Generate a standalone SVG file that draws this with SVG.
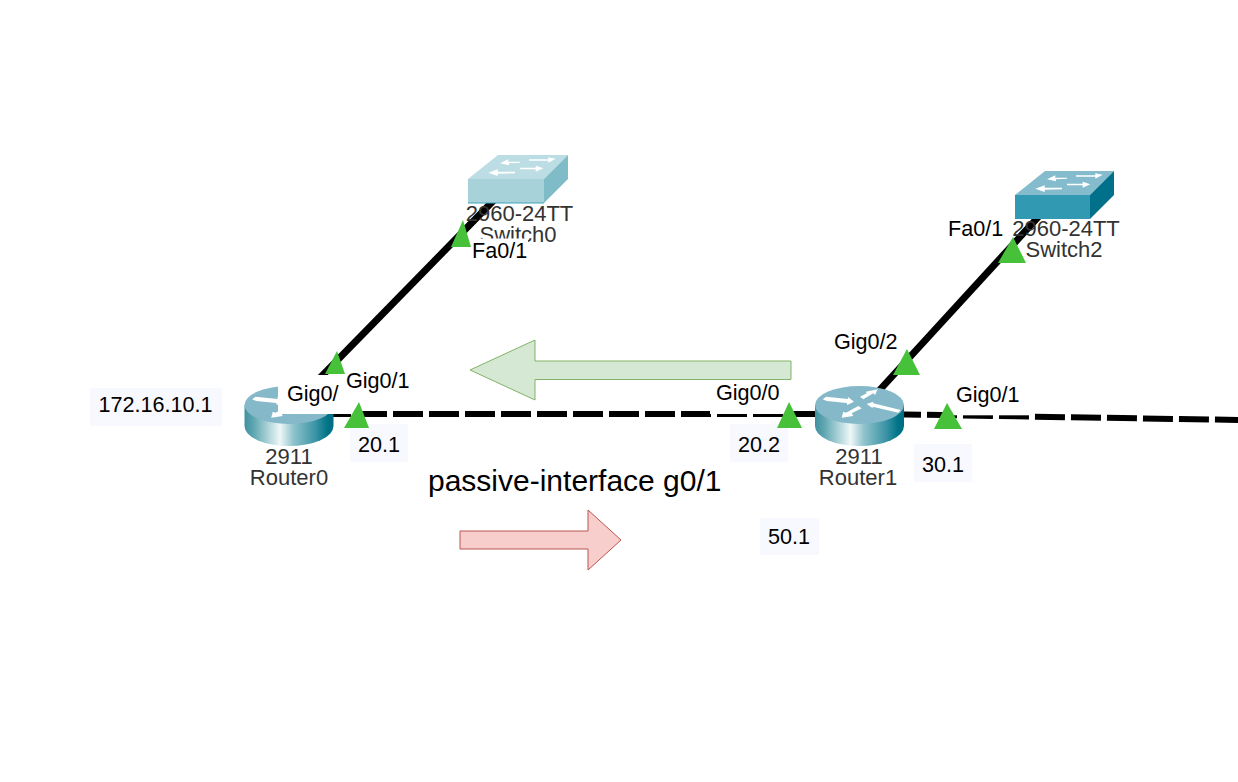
<svg xmlns="http://www.w3.org/2000/svg" width="1238" height="782" viewBox="0 0 1238 782">
<style>
text{font-family:"Liberation Sans",Arial,sans-serif;font-size:21.6px;fill:#000}
.dev{fill:#333;text-anchor:middle;font-size:22px}
.lnk{stroke:#000;stroke-width:6;fill:none}
.diag{stroke-width:7}
.dash{stroke-dasharray:30 6}
.wb{fill:#fff}
.pb{fill:#f8f8ff}
.tri{fill:#46c139}
.ar{fill:#fff}
</style>
<defs>
<linearGradient id="cyl" x1="0" x2="1" y1="0" y2="0">
<stop offset="0" stop-color="#3f919f"/><stop offset="0.1" stop-color="#5ea6b1"/><stop offset="0.4" stop-color="#eef7f8"/><stop offset="0.55" stop-color="#8fc3cc"/><stop offset="0.8" stop-color="#3a93a5"/><stop offset="0.93" stop-color="#007488"/><stop offset="1" stop-color="#016d81"/>
</linearGradient>
<g id="router">
<path d="M-44.5 0V21A44.5 20 0 0 0 44.5 21V0Z" fill="url(#cyl)"/>
<ellipse cx="0" cy="0" rx="44.5" ry="19" fill="#85b8c8"/>
<path class="ar" d="M-36.8-5.7L-33.5-8.3L-11.2-6L-11.8-8.3L-5.5-3.3L-12.2 0L-12.8-2L-32.8-4Z"/>
<path class="ar" d="M.5-8.3L7.2-11.7L6.2-13.3L18.2-15.7L15.5-10L13.8-11.7L3.8-5.7Z"/>
<path class="ar" d="M-1.2 1L2.2 3.3L-7.8 8.3L-6.2 11L-17.8 12.7L-16.2 6.7L-13.5 7.7Z"/>
<path class="ar" d="M7.2-1L13.8-3.3L13.8-1.7L41.2 5L38.8 7.7L13.2 1.7L13.2 3.3Z"/>
</g>
<g id="swarrows">
<path class="ar" d="M32 8.3L40.3 4.3L40.3 6.7L52 6.7L52 7.7L41 8.3L41 10.3Z"/>
<path class="ar" d="M61 4.3L80.3 4.3L80.3 2.3L87.7 3.7L80.3 7.7L80.3 5.7L61 5.7Z"/>
<path class="ar" d="M20.3 17.7L29.7 14.3L29.7 16.7L47 16.7L47 18.3L29.7 18.7L29.7 21Z"/>
<path class="ar" d="M52 12.7L67.7 12.7L67.7 10.7L75.3 13.3L67.7 16.7L67.7 14.3L52 14.3Z"/>
</g>
</defs>
<rect width="1238" height="782" fill="#fff"/>
<g id="connectors">
<line class="lnk diag" x1="496" y1="198" x2="316" y2="382"/>
<line class="lnk diag" x1="1041" y1="214" x2="876" y2="394"/>
<line class="lnk dash" x1="285" y1="414" x2="860" y2="414"/>
<line class="lnk dash" x1="855" y1="413.65" x2="1238" y2="420"/>
</g>
<g id="Switch0">
<path d="M468 179L498 155H568L544 179Z" fill="#bcdde4"/>
<rect x="468" y="179" width="76" height="24" fill="#a8d2da"/>
<path d="M544 179L568 155V179L544 203Z" fill="#7fbcc8"/>
<line x1="468" y1="203" x2="544" y2="203" stroke="#3ea4bd"/>
<use href="#swarrows" x="468" y="155"/>
<text class="dev" x="519.5" y="220.5">2960-24TT</text>
<text class="dev" x="518" y="241.5">Switch0</text>
</g>
<g id="Switch2">
<path d="M1015 195L1045 171H1114L1090 195Z" fill="#85bccd"/>
<rect x="1015" y="195" width="75" height="24" fill="#3199b2"/>
<path d="M1090 195L1114 171V195L1090 219Z" fill="#01708a"/>
<use href="#swarrows" x="1015" y="171"/>
<text class="dev" x="1066" y="236">2960-24TT</text>
<text class="dev" x="1064" y="257">Switch2</text>
</g>
<g id="Router0">
<use href="#router" x="289" y="405"/>
<text class="dev" x="289" y="464">2911</text>
<text class="dev" x="289" y="485">Router0</text>
</g>
<g id="Router1">
<use href="#router" x="859.5" y="405"/>
<text class="dev" x="859" y="464">2911</text>
<text class="dev" x="858" y="485">Router1</text>
</g>
<g id="labels">
<path class="wb" d="M278 383H306V375H345V414H278Z"/>
<text x="287" y="400.5">Gig0/1</text>
<rect class="wb" x="339" y="366" width="77" height="29"/>
<text x="346" y="388">Gig0/1</text>
<rect class="wb" x="339" y="395" width="21" height="19"/>
<rect class="wb" x="710" y="381" width="80" height="33"/>
<text x="716" y="400">Gig0/0</text>
<rect class="wb" x="950" y="381" width="80" height="34.3"/>
<text x="956" y="402">Gig0/1</text>
<rect class="wb" x="468" y="238.5" width="60" height="29"/>
<text x="472" y="258">Fa0/1</text>
<text x="948" y="236">Fa0/1</text>
<text x="834" y="349">Gig0/2</text>
<rect class="pb" x="90" y="388" width="132" height="38"/>
<text x="98.5" y="412">172.16.10.1</text>
<rect class="pb" x="350" y="424" width="58" height="38"/>
<text x="358" y="451.5">20.1</text>
<rect class="pb" x="730" y="424" width="58" height="38"/>
<text x="738" y="451.5">20.2</text>
<rect class="pb" x="914" y="444" width="58" height="38"/>
<text x="922" y="471.5">30.1</text>
<rect class="pb" x="760" y="518" width="59" height="37"/>
<text x="768" y="543.5">50.1</text>
<text x="428" y="491" style="font-size:30px">passive-interface g0/1</text>
</g>
<g id="markers">
<path class="tri" d="M337 351L345 374H325Z"/>
<path class="tri" d="M359 402L369 428H344Z"/>
<path class="tri" d="M463 220L471 247H451Z"/>
<path class="tri" d="M1013 237L1026 263H998Z"/>
<path class="tri" d="M907 349L920 375H893Z"/>
<path class="tri" d="M789 402L802 428H777Z"/>
<path class="tri" d="M947 403L962 429H934Z"/>
</g>
<g id="arrows">
<path d="M791 361H535V340L470 370L535 400V379.5H791Z" fill="#d5e8d4" stroke="#82b366"/>
<path d="M460 531H588V510L621 540L588 570V549H460Z" fill="#f8cecc" stroke="#b85450"/>
</g>
</svg>
